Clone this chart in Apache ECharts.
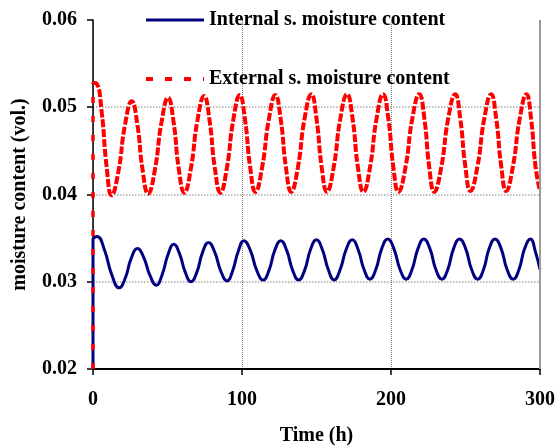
<!DOCTYPE html>
<html>
<head>
<meta charset="utf-8">
<script src="https://cdn.jsdelivr.net/npm/echarts@6/dist/echarts.min.js"></script>
<style>
html,body{margin:0;padding:0;background:#fff;}
#chart{width:555px;height:447px;}
</style>
</head>
<body>
<div id="chart"></div>
<script>
// ---- data ----
var seriesNames = ['Internal s. moisture content', 'External s. moisture content'];
var xTicks = [0, 100, 200, 300];
var yTicks = [0.02, 0.03, 0.04, 0.05, 0.06];

// initial step at t = 0
var intJumpTime = [0, 0];
var intJumpValue = [0.020, 0.0350];
var extJumpTime = [0, 0];
var extJumpValue = [0.020, 0.0528];

// Internal s. moisture content (blue)
var intTime = [0, 2.7, 7.6, 12.6, 17.5, 21.6, 25.7, 29.8, 34, 38.3, 42.5, 46.4, 50.3, 54.2, 58.1, 61.9, 65.8,
  69.7, 73.6, 77.5, 81.7, 85.8, 90, 93.8, 97.5, 101.3, 105.6, 109.9, 114.2, 118.1, 122, 126, 130, 134, 138,
  142, 146, 150, 153.9, 157.9, 161.8, 165.9, 169.9, 174, 177.9, 181.9, 185.8, 189.8, 193.8, 197.8, 201.9,
  206.1, 210.2, 214.1, 218.1, 222, 226.1, 230.1, 234.2, 238.1, 242, 246, 250.1, 254.1, 258.2, 262.1, 265.9,
  269.8, 273.9, 277.9, 282, 285.9, 289.7, 293.6, 297, 300];
var intValue = [0.0350, 0.0352, 0.0337, 0.0308, 0.0293, 0.0304, 0.0327, 0.0338, 0.0328, 0.0307, 0.0296, 0.0308,
  0.0331, 0.0343, 0.0332, 0.0311, 0.0300, 0.0311, 0.0334, 0.0345, 0.0334, 0.0312, 0.0301, 0.0313, 0.0335,
  0.0347, 0.0336, 0.0313, 0.0302, 0.0313, 0.0336, 0.0347, 0.0336, 0.0313, 0.0302, 0.0313, 0.0337, 0.0348,
  0.0337, 0.0314, 0.0302, 0.0314, 0.0337, 0.0348, 0.0337, 0.0314, 0.0303, 0.0314, 0.0338, 0.0349, 0.0338,
  0.0314, 0.0303, 0.0314, 0.0338, 0.0349, 0.0338, 0.0314, 0.0303, 0.0314, 0.0338, 0.0349, 0.0338, 0.0314,
  0.0303, 0.0314, 0.0338, 0.0349, 0.0338, 0.0314, 0.0303, 0.0314, 0.0338, 0.0349, 0.0334, 0.0314];

// External s. moisture content (red)
var extTime = [0, 2.5, 5.8, 9.2, 12.5, 17, 21.5, 26, 29.7, 33.3, 37, 41.5, 46, 50.4, 54, 57.6, 61.3, 65.7, 70.1,
  74.6, 78.2, 81.8, 85.5, 89.8, 94.2, 98.5, 102, 105.5, 109, 113.5, 118, 122.4, 126, 129.5, 133, 137.5, 142,
  146.6, 150, 153.5, 157, 161.5, 166, 170.5, 174.2, 177.8, 181.5, 185.9, 190.3, 194.7, 198.2, 201.6, 205,
  209.7, 214.3, 219, 222.4, 225.7, 229, 233.7, 238.4, 243.1, 246.5, 249.9, 253.3, 258, 262.6, 267.2, 270.6,
  274, 277.3, 281.8, 286.4, 290.9, 294, 297, 300];
var extValue = [0.0528, 0.0527, 0.0495, 0.0431, 0.0399, 0.0426, 0.0480, 0.0507, 0.0481, 0.0428, 0.0401, 0.0428,
  0.0483, 0.0511, 0.0484, 0.0429, 0.0402, 0.0430, 0.0485, 0.0513, 0.0485, 0.0430, 0.0402, 0.0430, 0.0486,
  0.0514, 0.0486, 0.0431, 0.0403, 0.0431, 0.0486, 0.0514, 0.0486, 0.0431, 0.0403, 0.0431, 0.0487, 0.0515,
  0.0487, 0.0431, 0.0403, 0.0431, 0.0487, 0.0515, 0.0487, 0.0431, 0.0403, 0.0431, 0.0487, 0.0515, 0.0487,
  0.0431, 0.0403, 0.0431, 0.0487, 0.0515, 0.0487, 0.0431, 0.0403, 0.0431, 0.0487, 0.0515, 0.0487, 0.0432,
  0.0404, 0.0432, 0.0487, 0.0515, 0.0487, 0.0432, 0.0404, 0.0432, 0.0487, 0.0515, 0.0487, 0.0432, 0.0404];

function pairs(ts, vs) { return ts.map(function (t, i) { return [t, vs[i]]; }); }

var FONT = 'Liberation Serif, Times New Roman, serif';
var BLUE = '#000080';
var RED = '#ff0000';
var NOSYM = { color: 'rgba(0,0,0,0)', borderWidth: 0, opacity: 0 };

var chart = echarts.init(document.getElementById('chart'), null, { renderer: 'canvas' });
chart.setOption({
  animation: false,
  backgroundColor: '#ffffff',
  grid: { left: 93, right: 15, top: 20, bottom: 78, containLabel: false, outerBoundsMode: 'none' },
  legend: {
    orient: 'vertical',
    left: 139,
    top: 5,
    itemWidth: 58,
    itemHeight: 14,
    itemGap: 39,
    textStyle: { fontFamily: FONT, fontWeight: 'bold', fontSize: 20, color: '#000', lineHeight: 20 },
    data: [
      { name: seriesNames[0], itemStyle: NOSYM, lineStyle: { color: BLUE, width: 3, type: 'solid' } },
      { name: seriesNames[1], itemStyle: NOSYM, lineStyle: { color: RED, width: 4, type: [7, 12] } }
    ]
  },
  xAxis: {
    type: 'value',
    min: xTicks[0],
    max: xTicks[xTicks.length - 1],
    interval: xTicks[1] - xTicks[0],
    name: 'Time (h)',
    nameLocation: 'middle',
    nameGap: 57,
    nameTextStyle: { fontFamily: FONT, fontWeight: 'bold', fontSize: 20, color: '#000' },
    axisLine: { show: true, onZero: false, lineStyle: { color: '#000', width: 2 } },
    axisTick: { show: true, inside: false, length: 6, lineStyle: { color: '#000', width: 1.5 } },
    axisLabel: { fontFamily: FONT, fontWeight: 'bold', fontSize: 20, color: '#000', margin: 21 },
    splitLine: { show: true, lineStyle: { color: '#7a7a7a', width: 1, type: 'dotted' } }
  },
  yAxis: {
    type: 'value',
    min: yTicks[0],
    max: yTicks[yTicks.length - 1],
    interval: 0.01,
    name: 'moisture content (vol.)',
    nameLocation: 'middle',
    nameGap: 63,
    nameTextStyle: { fontFamily: FONT, fontWeight: 'bold', fontSize: 20, color: '#000' },
    axisLine: { show: true, onZero: false, lineStyle: { color: '#000', width: 1.5 } },
    axisTick: { show: true, inside: false, length: 6, lineStyle: { color: '#000', width: 1.5 } },
    axisLabel: {
      fontFamily: FONT, fontWeight: 'bold', fontSize: 20, color: '#000', margin: 16,
      formatter: function (v) { return v.toFixed(2); }
    },
    splitLine: { show: true, showMaxLine: false, showMinLine: false, lineStyle: { color: '#a8a8a8', width: 1.5, type: 'dotted' } }
  },
  series: [
    {
      name: seriesNames[0],
      type: 'line',
      data: pairs(intTime, intValue),
      smooth: 0.5,
      showSymbol: false,
      symbol: 'none',
      lineStyle: { color: BLUE, width: 3 },
      itemStyle: { color: BLUE },
      z: 3,
      markLine: {
        silent: true,
        symbol: 'none',
        label: { show: false },
        lineStyle: { color: '#999', width: 2, type: 'solid' },
        data: [{ xAxis: xTicks[xTicks.length - 1] }]
      }
    },
    {
      name: 'intJump',
      type: 'line',
      data: pairs(intJumpTime, intJumpValue),
      showSymbol: false,
      symbol: 'none',
      lineStyle: { color: BLUE, width: 3 },
      z: 3
    },
    {
      name: seriesNames[1],
      type: 'line',
      data: pairs(extTime, extValue),
      smooth: 0.5,
      showSymbol: false,
      symbol: 'none',
      lineStyle: { color: RED, width: 4, type: [8, 2] },
      itemStyle: { color: RED },
      z: 4
    },
    {
      name: 'extJump',
      type: 'line',
      data: pairs(extJumpTime, extJumpValue),
      showSymbol: false,
      symbol: 'none',
      lineStyle: { color: RED, width: 3.5, type: [6, 13] },
      z: 5
    }
  ]
});
</script>
</body>
</html>
